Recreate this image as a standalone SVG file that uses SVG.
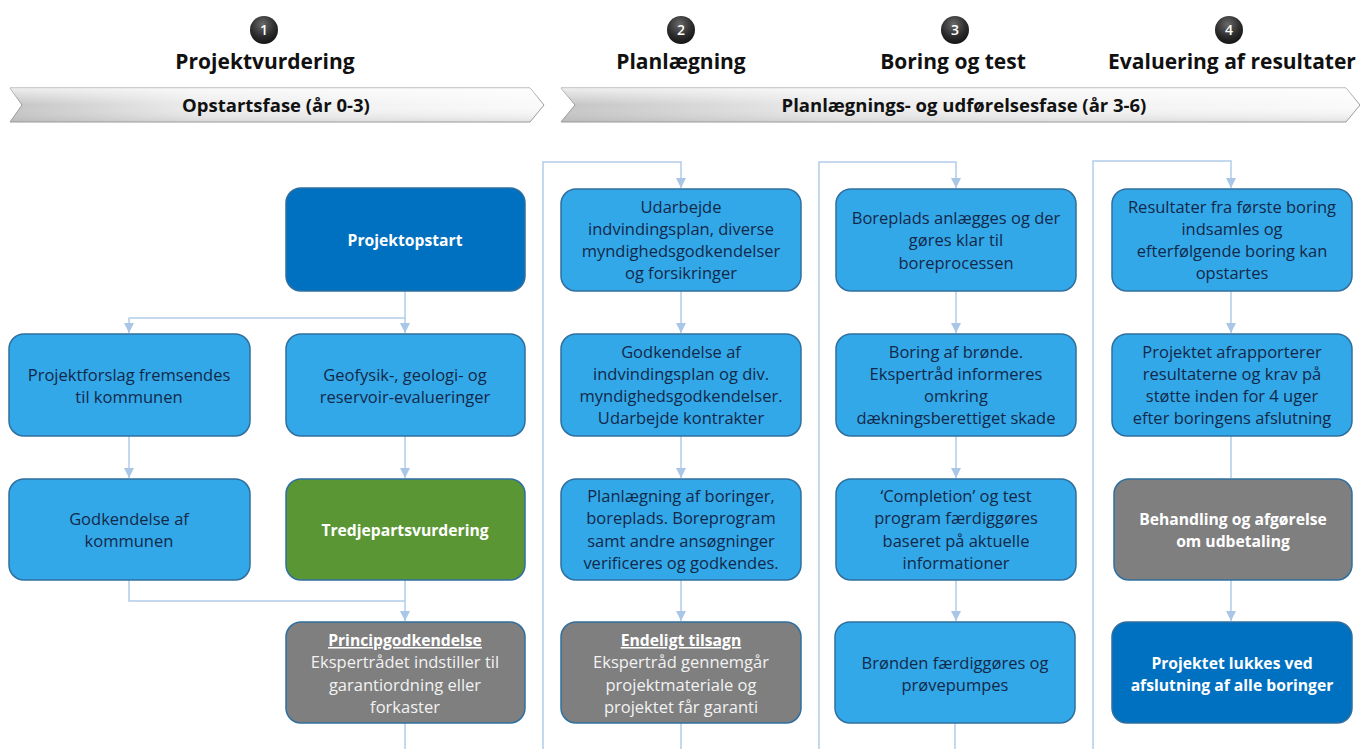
<svg xmlns="http://www.w3.org/2000/svg" width="1360" height="749" viewBox="0 0 1360 749">
  <defs>
    <radialGradient id="ball" cx="0.45" cy="0.3" r="0.75">
      <stop offset="0" stop-color="#6a6a6a"/>
      <stop offset="0.6" stop-color="#2b2b2b"/>
      <stop offset="1" stop-color="#111"/>
    </radialGradient>
    <linearGradient id="band" x1="0" y1="0" x2="1" y2="0">
      <stop offset="0" stop-color="#c4c4c4"/>
      <stop offset="0.35" stop-color="#ececec"/>
      <stop offset="1" stop-color="#fafafa"/>
    </linearGradient>
    <linearGradient id="bandV" x1="0" y1="0" x2="0" y2="1">
      <stop offset="0" stop-color="#fff" stop-opacity="0.7"/>
      <stop offset="0.5" stop-color="#fff" stop-opacity="0"/>
      <stop offset="1" stop-color="#999" stop-opacity="0.25"/>
    </linearGradient>
    <marker id="arr" viewBox="0 0 10 10" refX="10" refY="5" markerWidth="10" markerHeight="10" markerUnits="userSpaceOnUse" orient="auto">
      <path d="M0,0 L10,5 L0,10 z" fill="#a9c6e6"/>
    </marker>
    <style>
      .hdr{font-family:"Open Sans","Liberation Sans",sans-serif;font-weight:700;font-size:21px;fill:#111;text-anchor:middle}
      .num{font-family:"Open Sans","Liberation Sans",sans-serif;font-weight:600;font-size:14px;fill:#fff;text-anchor:middle}
      .band{font-family:"Open Sans","Liberation Sans",sans-serif;font-weight:700;font-size:18.5px;fill:#111;text-anchor:middle}
      .box{stroke:#2f6f9f;stroke-width:1.5}
      .lb{fill:#32a8e8}
      .db{fill:#0070c0}
      .gr{fill:#5b9634}
      .gy{fill:#7f7f7f}
      .t{font-family:"Open Sans","Liberation Sans",sans-serif;font-size:16.5px;text-anchor:middle;fill:#13284a}
      .w{fill:#fff}
      .wl{fill:#f2f2f2}
      .b{font-weight:700;font-size:15.7px}
      .u{text-decoration:underline}
      .conn{fill:none;stroke:#b2cde9;stroke-width:1.5}
    </style>
  </defs>

  <rect width="1360" height="749" fill="#fff"/>

  <!-- phase headings -->
  <g id="phase1">
    <circle cx="264" cy="30" r="14" fill="url(#ball)"/>
    <text class="num" x="264" y="35">1</text>
    <text class="hdr" x="265" y="69">Projektvurdering</text>
  </g>
  <g id="phase2">
    <circle cx="681" cy="30" r="14" fill="url(#ball)"/>
    <text class="num" x="681" y="35">2</text>
    <text class="hdr" x="681" y="69">Planlægning</text>
  </g>
  <g id="phase3">
    <circle cx="955" cy="30" r="14" fill="url(#ball)"/>
    <text class="num" x="955" y="35">3</text>
    <text class="hdr" x="953" y="69">Boring og test</text>
  </g>
  <g id="phase4">
    <circle cx="1229" cy="30" r="14" fill="url(#ball)"/>
    <text class="num" x="1229" y="35">4</text>
    <text class="hdr" x="1232" y="69">Evaluering af resultater</text>
  </g>

  <!-- timeline bands -->
  <g id="band1">
    <path d="M10,88 L530,88 L544,105 L530,122 L10,122 L22,105 Z" fill="url(#band)" stroke="#9a9a9a" stroke-width="1"/>
    <path d="M10,88 L530,88 L544,105 L530,122 L10,122 L22,105 Z" fill="url(#bandV)"/>
    <text class="band" x="276" y="112">Opstartsfase (år 0-3)</text>
  </g>
  <g id="band2">
    <path d="M561,88 L1346,88 L1360,105 L1346,122 L561,122 L575,105 Z" fill="url(#band)" stroke="#9a9a9a" stroke-width="1"/>
    <path d="M561,88 L1346,88 L1360,105 L1346,122 L561,122 L575,105 Z" fill="url(#bandV)"/>
    <text class="band" x="964" y="112">Planlægnings- og udførelsesfase (år 3-6)</text>
  </g>

  <!-- connectors -->
  <g id="connectors">
    <path class="conn" d="M405,291 V318 H129 V333" marker-end="url(#arr)"/>
    <path class="conn" d="M405,318 V333" marker-end="url(#arr)"/>
    <path class="conn" d="M129,436 V478" marker-end="url(#arr)"/>
    <path class="conn" d="M405,436 V478" marker-end="url(#arr)"/>
    <path class="conn" d="M129,580 V601 H405"/>
    <path class="conn" d="M405,580 V621" marker-end="url(#arr)"/>
    <path class="conn" d="M405,723 V749"/>

    <path class="conn" d="M543,749 V162 H681 V188" marker-end="url(#arr)"/>
    <path class="conn" d="M681,291 V333" marker-end="url(#arr)"/>
    <path class="conn" d="M681,436 V478" marker-end="url(#arr)"/>
    <path class="conn" d="M681,580 V621" marker-end="url(#arr)"/>
    <path class="conn" d="M681,723 V749"/>

    <path class="conn" d="M819,749 V162 H956 V188" marker-end="url(#arr)"/>
    <path class="conn" d="M956,291 V333" marker-end="url(#arr)"/>
    <path class="conn" d="M956,436 V478" marker-end="url(#arr)"/>
    <path class="conn" d="M956,580 V621" marker-end="url(#arr)"/>
    <path class="conn" d="M955,723 V749"/>

    <path class="conn" d="M1093,749 V161 H1231 V188" marker-end="url(#arr)"/>
    <path class="conn" d="M1231,291 V333" marker-end="url(#arr)"/>
    <path class="conn" d="M1231,436 V478"/>
    <path class="conn" d="M1231,580 V621" marker-end="url(#arr)"/>
  </g>

  <!-- column 1 -->
  <g id="projektopstart">
    <rect class="box db" x="286" y="188" width="239" height="103" rx="15"/>
    <text class="t w b" x="405" y="246">Projektopstart</text>
  </g>
  <g id="projektforslag">
    <rect class="box lb" x="9" y="334" width="241" height="102" rx="15"/>
    <text class="t" x="129" y="381">Projektforslag fremsendes</text>
    <text class="t" x="129" y="403">til kommunen</text>
  </g>
  <g id="geofysik">
    <rect class="box lb" x="286" y="334" width="239" height="102" rx="15"/>
    <text class="t" x="405" y="381">Geofysik-, geologi- og</text>
    <text class="t" x="405" y="403">reservoir-evalueringer</text>
  </g>
  <g id="godkendelse-kommunen">
    <rect class="box lb" x="9" y="479" width="241" height="101" rx="15"/>
    <text class="t" x="129" y="525">Godkendelse af</text>
    <text class="t" x="129" y="547">kommunen</text>
  </g>
  <g id="tredjepart">
    <rect class="box gr" x="286" y="479" width="239" height="101" rx="15"/>
    <text class="t w b" x="405" y="536">Tredjepartsvurdering</text>
  </g>
  <g id="principgodkendelse">
    <rect class="box gy" x="286" y="622" width="239" height="101" rx="15"/>
    <text class="t w b u" x="405" y="646">Principgodkendelse</text>
    <text class="t wl" x="405" y="668">Ekspertrådet indstiller til</text>
    <text class="t wl" x="405" y="691">garantiordning eller</text>
    <text class="t wl" x="405" y="713">forkaster</text>
  </g>

  <!-- column 2 -->
  <g id="udarbejde">
    <rect class="box lb" x="561" y="189" width="240" height="102" rx="15"/>
    <text class="t" x="681" y="213">Udarbejde</text>
    <text class="t" x="681" y="235">indvindingsplan, diverse</text>
    <text class="t" x="681" y="257">myndighedsgodkendelser</text>
    <text class="t" x="681" y="279">og forsikringer</text>
  </g>
  <g id="godkendelse-plan">
    <rect class="box lb" x="561" y="334" width="240" height="102" rx="15"/>
    <text class="t" x="681" y="358">Godkendelse af</text>
    <text class="t" x="681" y="380">indvindingsplan og div.</text>
    <text class="t" x="681" y="402">myndighedsgodkendelser.</text>
    <text class="t" x="681" y="424">Udarbejde kontrakter</text>
  </g>
  <g id="planlaegning">
    <rect class="box lb" x="561" y="479" width="240" height="101" rx="15"/>
    <text class="t" x="681" y="502">Planlægning af boringer,</text>
    <text class="t" x="681" y="524">boreplads. Boreprogram</text>
    <text class="t" x="681" y="547">samt andre ansøgninger</text>
    <text class="t" x="681" y="569">verificeres og godkendes.</text>
  </g>
  <g id="endeligt-tilsagn">
    <rect class="box gy" x="561" y="622" width="240" height="101" rx="15"/>
    <text class="t w b u" x="681" y="646">Endeligt tilsagn</text>
    <text class="t wl" x="681" y="668">Ekspertråd gennemgår</text>
    <text class="t wl" x="681" y="691">projektmateriale og</text>
    <text class="t wl" x="681" y="713">projektet får garanti</text>
  </g>

  <!-- column 3 -->
  <g id="boreplads">
    <rect class="box lb" x="836" y="189" width="240" height="102" rx="15"/>
    <text class="t" x="956" y="224">Boreplads anlægges og der</text>
    <text class="t" x="956" y="246">gøres klar til</text>
    <text class="t" x="956" y="269">boreprocessen</text>
  </g>
  <g id="boring-broende">
    <rect class="box lb" x="836" y="334" width="240" height="102" rx="15"/>
    <text class="t" x="956" y="358">Boring af brønde.</text>
    <text class="t" x="956" y="380">Ekspertråd informeres</text>
    <text class="t" x="956" y="402">omkring</text>
    <text class="t" x="956" y="424">dækningsberettiget skade</text>
  </g>
  <g id="completion">
    <rect class="box lb" x="836" y="479" width="240" height="101" rx="15"/>
    <text class="t" x="956" y="502">‘Completion’ og test</text>
    <text class="t" x="956" y="524">program færdiggøres</text>
    <text class="t" x="956" y="547">baseret på aktuelle</text>
    <text class="t" x="956" y="569">informationer</text>
  </g>
  <g id="broenden">
    <rect class="box lb" x="835" y="622" width="240" height="101" rx="15"/>
    <text class="t" x="955" y="669">Brønden færdiggøres og</text>
    <text class="t" x="955" y="691">prøvepumpes</text>
  </g>

  <!-- column 4 -->
  <g id="resultater">
    <rect class="box lb" x="1112" y="189" width="240" height="102" rx="15"/>
    <text class="t" x="1232" y="213">Resultater fra første boring</text>
    <text class="t" x="1232" y="235">indsamles og</text>
    <text class="t" x="1232" y="257">efterfølgende boring  kan</text>
    <text class="t" x="1232" y="279">opstartes</text>
  </g>
  <g id="afrapporterer">
    <rect class="box lb" x="1112" y="334" width="240" height="102" rx="15"/>
    <text class="t" x="1232" y="358">Projektet afrapporterer</text>
    <text class="t" x="1232" y="380">resultaterne og krav på</text>
    <text class="t" x="1232" y="402">støtte inden for 4 uger</text>
    <text class="t" x="1232" y="424">efter boringens afslutning</text>
  </g>
  <g id="behandling">
    <rect class="box gy" x="1114" y="479" width="238" height="101" rx="15"/>
    <text class="t w b" x="1233" y="525">Behandling og afgørelse</text>
    <text class="t w b" x="1233" y="547">om udbetaling</text>
  </g>
  <g id="lukkes">
    <rect class="box db" x="1112" y="622" width="240" height="101" rx="15"/>
    <text class="t w b" x="1232" y="669">Projektet lukkes ved</text>
    <text class="t w b" x="1232" y="691">afslutning af alle boringer</text>
  </g>
</svg>
